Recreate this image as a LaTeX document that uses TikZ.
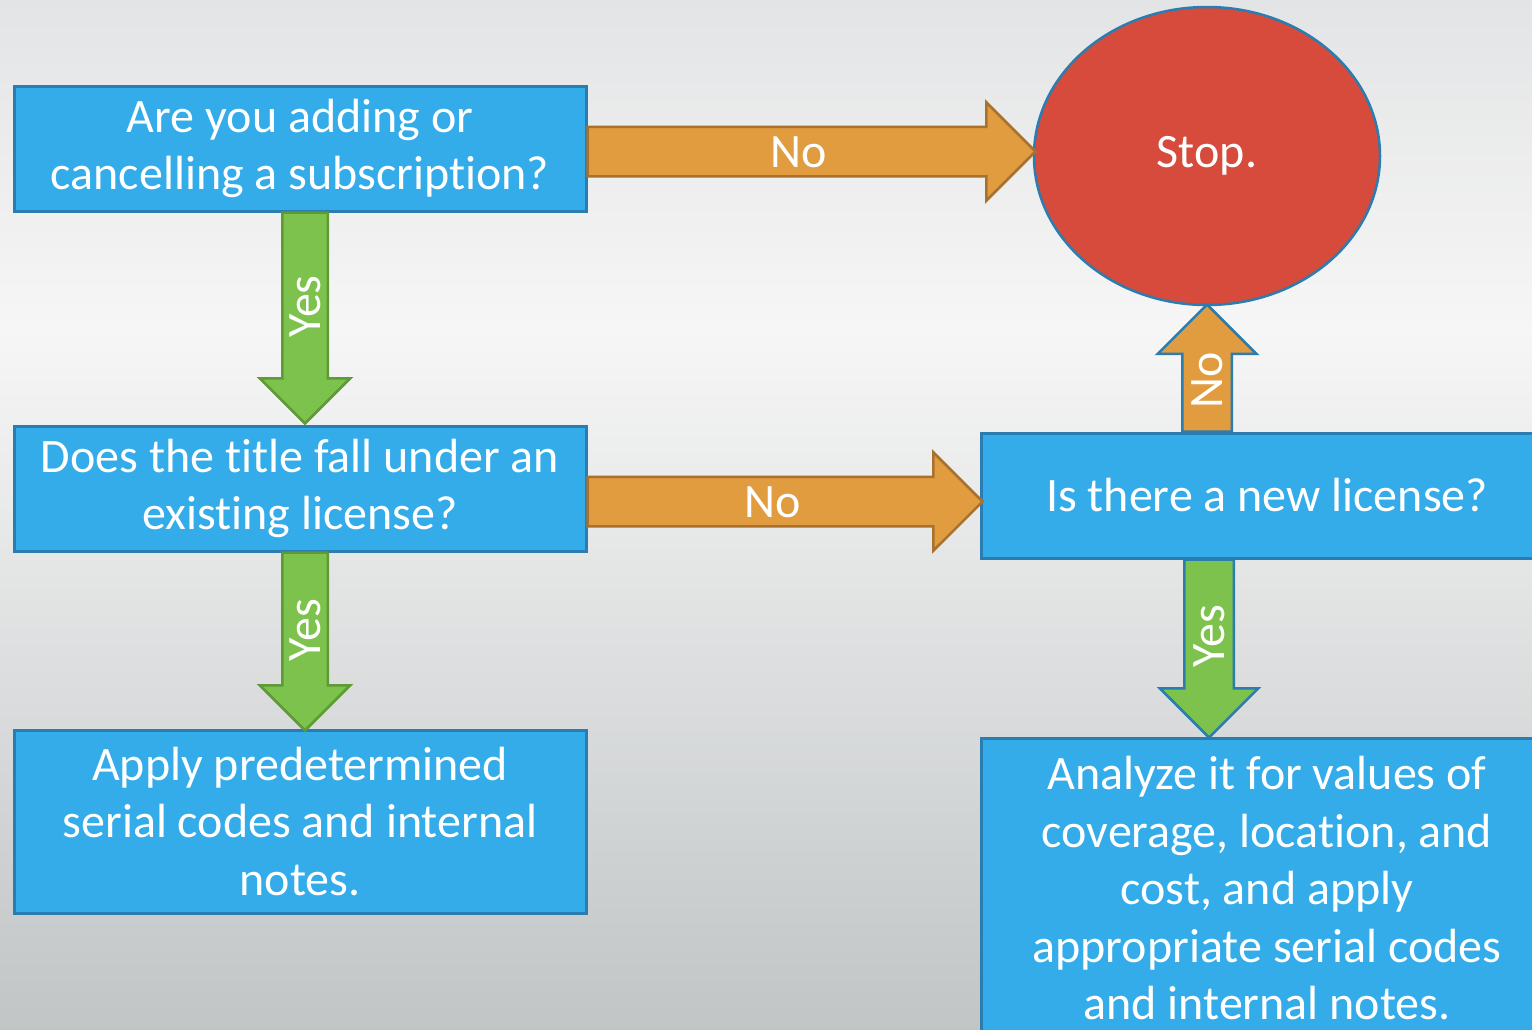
\documentclass[tikz,border=0pt]{standalone}
\usepackage{fontspec}
\setmainfont{Carlito}[Ligatures=NoCommon]
\usepackage{tikz}
\usetikzlibrary{shapes.geometric}
\usetikzlibrary{shapes.arrows}
\definecolor{boxblue}{HTML}{33ACE9}
\definecolor{boxline}{HTML}{2A7CB1}
\definecolor{stopred}{HTML}{D64B3B}
\definecolor{arrowor}{HTML}{E09C3F}
\definecolor{orline}{HTML}{A8712E}
\definecolor{arrowgr}{HTML}{7DC24C}
\definecolor{grline}{HTML}{5E9A36}
\definecolor{bgtop}{HTML}{E3E4E5}
\definecolor{bgmid}{HTML}{F6F6F6}
\definecolor{bgbot}{HTML}{C1C5C6}
\newcommand{\flowfont}{\fontsize{48}{57.5}\selectfont}
\tikzstyle{box} = [rectangle, draw=boxline, fill=boxblue, line width=3pt,
    minimum width=572pt, inner sep=0pt, text width=560pt, align=flush center,
    text=white, font=\flowfont]
\tikzstyle{blockarrow} = [single arrow, single arrow head extend=24.5pt,
    line width=2.5pt, inner xsep=0pt, inner ysep=8pt, outer sep=0pt,
    text height=31pt, text depth=0pt, text=white, font=\flowfont, anchor=tail]
\tikzstyle{noarrow} = [blockarrow, fill=arrowor, draw=orline]
\tikzstyle{yesarrow} = [blockarrow, fill=arrowgr, draw=grline]

\begin{document}
\begin{tikzpicture}[x=1pt,y=-1pt]
    \useasboundingbox (0,0) rectangle (1532,1029);
    \clip (0,0) rectangle (1532,1029);
    %background
    \shade[top color=bgtop, bottom color=bgmid] (0,0) rectangle (1532,330);
    \shade[top color=bgmid, bottom color=bgbot] (0,330) rectangle (1532,1029);
    %questions
    \node[box, minimum height=125pt] (q1) at (300,148.5) {Are you adding or\\cancelling a subscription?};
    \node[box, minimum height=125pt] (q2) at (300,488.5) {Does the title fall under an\\existing license?};
    \node[box, minimum height=125pt] (q3) at (1267,495.5) {Is there a new license?};
    %actions
    \node[box, minimum height=183pt] (act1) at (300,821.5) {Apply predetermined\\serial codes and internal\\notes.};
    \node[box, minimum height=301pt] (act2) at (1267,888.5) {Analyze it for values of\\coverage, location, and\\cost, and apply\\appropriate serial codes\\and internal notes.};
    %stop
    \node[ellipse, draw=boxline, fill=stopred, line width=2.5pt, minimum width=346pt,
        minimum height=298pt, text=white, font=\flowfont] (stop) at (1207,156) {Stop.};
    %no arrows
    \node[noarrow, minimum height=448pt] (no1) at ([yshift=-3pt]q1.east) {No};
    \node[noarrow, minimum height=395pt] (no2) at ([yshift=-13pt]q2.east) {No};
    \node[noarrow, draw=boxline, rotate=90, minimum height=127pt] (no3) at (stop.south |- q3.north) {No};
    %yes arrows
    \node[yesarrow, inner ysep=6pt, single arrow head extend=22.5pt, rotate=90,
        shape border rotate=180, minimum height=211pt] (yes1) at ([xshift=5pt]q1.south) {Yes};
    \node[yesarrow, inner ysep=6pt, single arrow head extend=22.5pt, rotate=90,
        shape border rotate=180, minimum height=178pt] (yes2) at ([xshift=5pt]q2.south) {Yes};
    \node[yesarrow, draw=boxline, rotate=90, shape border rotate=180,
        minimum height=178pt] (yes3) at ([xshift=2pt]stop.south |- q3.south) {Yes};
\end{tikzpicture}
\end{document}
